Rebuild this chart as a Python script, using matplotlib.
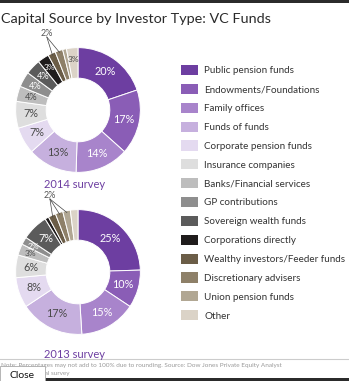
import matplotlib
matplotlib.use("Agg")
import matplotlib.pyplot as plt
from matplotlib.patches import Patch, Rectangle
import numpy as np

plt.rcParams['font.family'] = ['Lato', 'DejaVu Sans']

categories = ["Public pension funds", "Endowments/Foundations", "Family offices",
              "Funds of funds", "Corporate pension funds", "Insurance companies",
              "Banks/Financial services", "GP contributions", "Sovereign wealth funds",
              "Corporations directly", "Wealthy investors/Feeder funds",
              "Discretionary advisers", "Union pension funds", "Other"]
values_2014 = [20, 17, 14, 13, 7, 7, 4, 4, 4, 3, 2, 2, 1, 3]
values_2013 = [25, 10, 15, 17, 8, 6, 3, 2, 7, 1, 2, 2, 2, 2]
colors = ["#6d3ea1", "#8a5db6", "#a884cb", "#c6b0de", "#e4daf0", "#dedede",
          "#bdbdbd", "#8e8e8e", "#5b5b5b", "#1f1c1c", "#6b5d47", "#8e8068",
          "#b1a793", "#dbd3c7"]
light = [False, False, False, True, True, True, True, False, False, False,
         False, False, True, True]

W, H = 349, 381
fig = plt.figure(figsize=(W / 100, H / 100), dpi=100)

def fx(x):
    return x / W

def fy(y):
    return 1 - y / H

fig.patches.append(Rectangle((0, fy(3)), 1, 3 / H, transform=fig.transFigure,
                             facecolor="#2b2b2b", edgecolor="none"))
fig.text(fx(1), fy(19), "Capital Source by Investor Type: VC Funds", fontsize=10.4,
         color="#2a2a2a", va="center", ha="left")


def donut(cx, cy, r, vals, small_idx, small_label_pos, caption_y, caption, hide=()):
    ax = fig.add_axes([fx(cx - r), fy(cy + r), 2 * r / W, 2 * r / H])
    wedges, _ = ax.pie(vals, colors=colors, startangle=90, counterclock=False,
                       radius=1, wedgeprops=dict(width=0.49, edgecolor="white",
                                                 linewidth=0.7))
    ax.set_xlim(-1.01, 1.01)
    ax.set_ylim(-1.01, 1.01)
    ax.axis("off")
    for i, w in enumerate(wedges):
        mid = np.deg2rad((w.theta1 + w.theta2) / 2)
        if i in small_idx or i in hide:
            continue
        small = vals[i] <= 4
        tiny = vals[i] <= 3
        rr = 0.82 if tiny else (0.78 if small else 0.75)
        x, y = rr * np.cos(mid), rr * np.sin(mid)
        ax.text(x, y, f"{vals[i]}%", ha="center", va="center",
                fontsize=6.0 if tiny else (6.6 if small else 7.8),
                color="#4a4a4a" if light[i] else "white")
    lx, ly = small_label_pos
    ax.text(lx, ly, f"{vals[small_idx[0]]}%", ha="center", va="bottom",
            fontsize=6.5, color="#555555", clip_on=False)
    for i in small_idx:
        w = wedges[i]
        mid = np.deg2rad((w.theta1 + w.theta2) / 2)
        ax.plot([lx, 0.97 * np.cos(mid)], [ly + 0.02, 0.97 * np.sin(mid)],
                color="#444444", lw=0.5, clip_on=False)
    fig.text(fx(cx - 3), fy(caption_y), caption, ha="center", va="center",
             fontsize=8, color="#6d3ea1")


donut(78, 110, 63, values_2014, [10, 11], (-0.5, 1.15), 184, "2014 survey", hide=(12,))
donut(78, 272, 63, values_2013, [10, 11, 12], (-0.45, 1.15), 354, "2013 survey",
      hide=(9, 13))

handles = [Patch(facecolor=c, edgecolor="none") for c in colors]
fig.legend(handles, categories, loc="upper left", bbox_to_anchor=(fx(181), fy(65)),
           frameon=False, fontsize=7.1, handlelength=1.75, handleheight=1.2,
           labelspacing=0.86, handletextpad=0.6, borderaxespad=0, borderpad=0,
           labelcolor="#333333")

fig.lines.append(plt.Line2D([0, 1], [fy(359), fy(359)], transform=fig.transFigure,
                            color="#cccccc", lw=0.8))
fig.text(fx(1), fy(365), "Note: Percentages may not add to 100% due to rounding. Source: Dow Jones Private Equity Analyst",
         fontsize=4.6, color="#999999", va="center", ha="left")
fig.text(fx(30), fy(373), "Capital survey", fontsize=4.6, color="#999999",
         va="center", ha="left")
fig.patches.append(Rectangle((fx(45), 0), 1, 3 / H, transform=fig.transFigure,
                             facecolor="#2b2b2b", edgecolor="none"))
fig.patches.append(Rectangle((0, 0), fx(45), 15 / H, transform=fig.transFigure,
                             facecolor="white", edgecolor="#aaaaaa", lw=0.6,
                             zorder=5))
fig.text(fx(22), fy(375), "Close", fontsize=7.5, color="#111111", ha="center",
         va="center", zorder=6)

fig.savefig("out.png", dpi=100, facecolor="white")
